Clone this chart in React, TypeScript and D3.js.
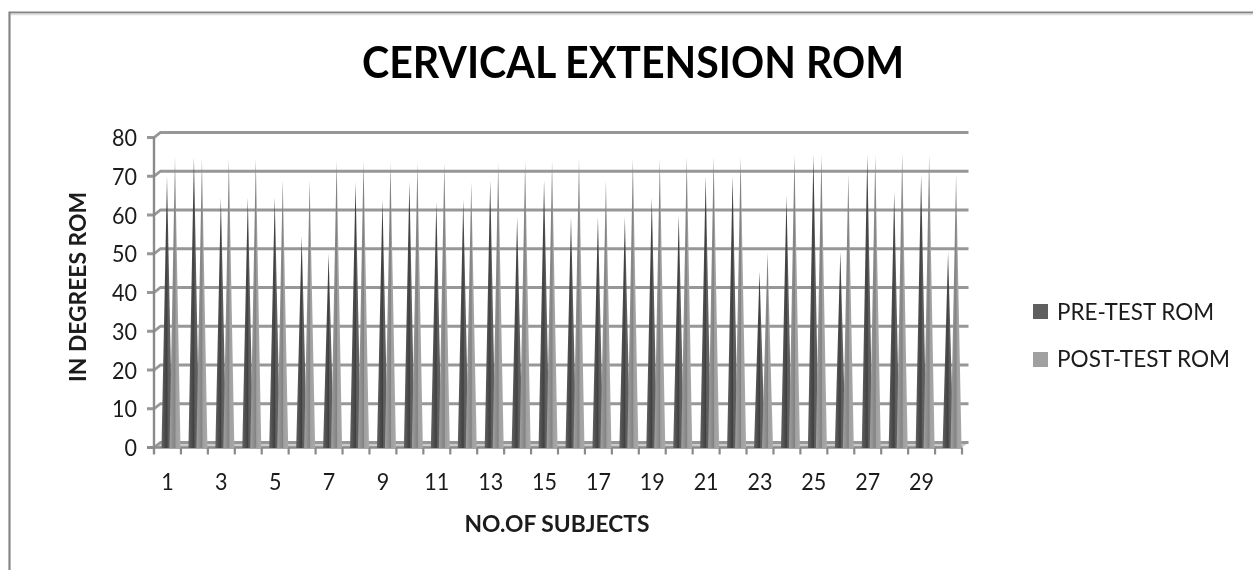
import React from "react";
import * as d3 from "d3";

const subjects = d3.range(1, 31);
const preTest = [70, 75, 64.5, 64.5, 64.5, 54.5, 50, 68.5, 64, 68.5, 63.5, 64, 69, 59.5, 69, 59.5, 59.5, 59.5, 64.5, 60, 70, 70, 45.5, 65, 75.5, 50.5, 75.5, 66, 70.5, 50.5];
const postTest = [75, 74.5, 74.5, 74.5, 69, 69, 74, 74, 73.5, 73.5, 73.5, 68.5, 73.5, 74, 74, 74.5, 69, 74.5, 74.5, 75, 75, 75, 50.5, 75.5, 75.5, 70.5, 75.5, 76, 75.5, 70.5];
const yTicks = [0, 10, 20, 30, 40, 50, 60, 70, 80];
const xLabels = [1, 3, 5, 7, 9, 11, 13, 15, 17, 19, 21, 23, 25, 27, 29];
const seriesNames = ["PRE-TEST ROM", "POST-TEST ROM"];
const title = "CERVICAL EXTENSION ROM";
const yTitle = "IN DEGREES ROM";
const xTitle = "NO.OF SUBJECTS";

const x = d3.scaleBand<number>().domain(subjects).range([154, 962]);
const y = d3.scaleLinear().domain([0, 80]).range([447.5, 137.5]);
const depthX = 6.5;
const depthY = 5;
const font = "Lato, 'Open Sans', sans-serif";
const axisColor = "#8a8a8a";
const gridColor = "#979797";
const textColor = "#1a1a1a";

function cone(cx: number, half: number, v: number) {
  return d3.line()([
    [cx - half, y(0) + 0.5],
    [cx, y(v)],
    [cx + half, y(0) + 0.5],
  ]) + "Z";
}

export default function App() {
  const right = x.range()[1];
  const x0 = x.range()[0];
  return (
    <svg width={1253} height={570} style={{ position: "absolute", left: 0, top: 0, background: "#fff" }}>
      <defs>
        <filter id="soft" x="-5%" y="-5%" width="110%" height="110%">
          <feGaussianBlur stdDeviation="0.55" />
        </filter>
        <filter id="softCone" x="-5%" y="-5%" width="110%" height="110%">
          <feGaussianBlur stdDeviation="0.35" />
        </filter>
        <filter id="softText" x="-5%" y="-20%" width="110%" height="140%">
          <feGaussianBlur stdDeviation="0.4" />
        </filter>
        <linearGradient id="preFill" x1="0" x2="1" y1="0" y2="0">
          <stop offset="0" stopColor="#626262" />
          <stop offset="0.5" stopColor="#404040" />
          <stop offset="0.58" stopColor="#5c5c5c" />
          <stop offset="1" stopColor="#666666" />
        </linearGradient>
        <linearGradient id="postFill" x1="0" x2="1" y1="0" y2="0">
          <stop offset="0" stopColor="#a0a0a0" />
          <stop offset="0.5" stopColor="#828282" />
          <stop offset="0.58" stopColor="#a0a0a0" />
          <stop offset="1" stopColor="#a8a8a8" />
        </linearGradient>
      </defs>

      <g filter="url(#soft)">
        <path d="M9.5 570V12.5H1253" fill="none" stroke="#858585" strokeWidth={2.2} />
        <path d="M11 14.5H1253" fill="none" stroke="#dedede" strokeWidth={1.5} />
        <path
          d={`M${x0} ${y(0)}L${x0 + depthX} ${y(0) - depthY}H${right + depthX}L${right} ${y(0)}Z`}
          fill="#cccccc"
        />
        {yTicks.map((t) => (
          <path
            key={t}
            d={`M147 ${y(t)}H${x0}L${x0 + depthX} ${y(t) - depthY}H${right + depthX}`}
            fill="none"
            stroke={gridColor}
            strokeWidth={2.8}
          />
        ))}
        <line x1={x0} x2={x0} y1={y(80)} y2={y(0) + 7} stroke={axisColor} strokeWidth={2.4} />
        <path d={`M147 ${y(0)}H${right}`} stroke={axisColor} strokeWidth={2.4} fill="none" />
        {subjects.map((s) => (
          <line key={s} x1={x(s)! + x.bandwidth()} x2={x(s)! + x.bandwidth()} y1={y(0)} y2={y(0) + 7} stroke={axisColor} strokeWidth={2.2} />
        ))}
        <rect x={1033} y={304} width={15} height={15} fill="#5f5f5f" />
        <rect x={1033} y={352} width={15} height={15} fill="#a0a0a0" />
      </g>
      <g filter="url(#softCone)">
        {subjects.map((s, i) => (
          <g key={s}>
            <path d={cone(x(s)! + 13, 5.5, preTest[i])} fill="url(#preFill)" />
            <path d={cone(x(s)! + 21, 5.5, postTest[i])} fill="url(#postFill)" />
          </g>
        ))}
      </g>

      <g filter="url(#softText)" fontFamily={font} fill={textColor}>
        <text x={633} y={78} textAnchor="middle" fontSize={43} fontWeight={700} textLength={542} lengthAdjust="spacingAndGlyphs" fill="#000">
          {title}
        </text>
        {yTicks.map((t) => (
          <text key={t} x={137} y={y(t) + 8.5} textAnchor="end" fontSize={24} textLength={String(t).length * 12.5} lengthAdjust="spacingAndGlyphs">
            {t}
          </text>
        ))}
        {xLabels.map((l) => (
          <text key={l} x={x(l)! + x.bandwidth() / 2} y={490} textAnchor="middle" fontSize={24} textLength={String(l).length * 12.5} lengthAdjust="spacingAndGlyphs">
            {l}
          </text>
        ))}
        <text transform="translate(86,287) rotate(-90)" textAnchor="middle" fontSize={22} fontWeight={700} textLength={190} lengthAdjust="spacingAndGlyphs">
          {yTitle}
        </text>
        <text x={557} y={532} textAnchor="middle" fontSize={22} fontWeight={700} textLength={185} lengthAdjust="spacingAndGlyphs">
          {xTitle}
        </text>
        <text x={1057} y={320} fontSize={24} textLength={157} lengthAdjust="spacingAndGlyphs">
          {seriesNames[0]}
        </text>
        <text x={1057} y={367} fontSize={24} textLength={173} lengthAdjust="spacingAndGlyphs">
          {seriesNames[1]}
        </text>
      </g>
    </svg>
  );
}
